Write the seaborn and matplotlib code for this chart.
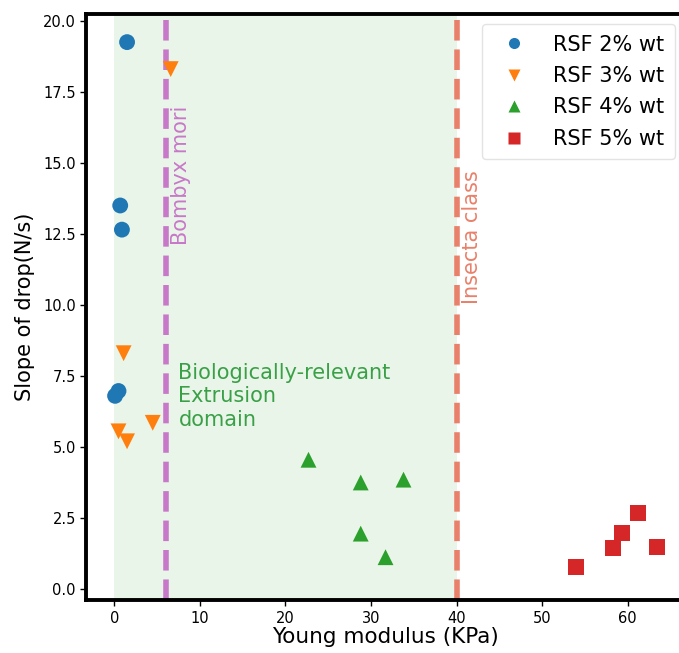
import matplotlib
matplotlib.use("Agg")
import matplotlib.pyplot as plt
import pandas as pd
import seaborn as sns

# values
groups = ["RSF 2% wt", "RSF 3% wt", "RSF 4% wt", "RSF 5% wt"]
young_2 = [1.5, 0.7, 0.9, 0.5, 0.1]
slope_2 = [19.25, 13.5, 12.65, 6.97, 6.8]
young_3 = [6.6, 1.1, 0.5, 1.5, 4.5]
slope_3 = [18.3, 8.3, 5.55, 5.2, 5.85]
young_4 = [22.7, 28.8, 33.8, 28.8, 31.7]
slope_4 = [4.55, 3.75, 3.85, 1.95, 1.12]
young_5 = [54.0, 58.3, 59.3, 61.2, 63.4]
slope_5 = [0.77, 1.43, 1.96, 2.67, 1.48]

bombyx_x = 6
insecta_x = 40

data = pd.concat([
    pd.DataFrame({"Young": young_2, "Slope": slope_2, "Sample": groups[0]}),
    pd.DataFrame({"Young": young_3, "Slope": slope_3, "Sample": groups[1]}),
    pd.DataFrame({"Young": young_4, "Slope": slope_4, "Sample": groups[2]}),
    pd.DataFrame({"Young": young_5, "Slope": slope_5, "Sample": groups[3]}),
], ignore_index=True)

fig = plt.figure(figsize=(6.79, 6.53), dpi=100)
# axes run a little past the right edge, as in the cropped reference
ax = fig.add_axes([0.127, 0.081, 0.882, 0.898])

ax.axvspan(0, insecta_x, color="#2ca02c", alpha=0.1, lw=0, zorder=0)
ax.axvline(bombyx_x, color="#c878c8", ls="--", lw=4, zorder=1)
ax.axvline(insecta_x, color="#e9806a", ls="--", lw=4, zorder=1)

sns.scatterplot(data=data, x="Young", y="Slope", hue="Sample", style="Sample",
                markers={"RSF 2% wt": "o", "RSF 3% wt": "v", "RSF 4% wt": "^", "RSF 5% wt": "s"},
                palette=["#1f77b4", "#ff7f0e", "#2ca02c", "#d62728"],
                s=130, edgecolor="none", ax=ax, zorder=3)

ax.text(bombyx_x + 0.6, 17.0, "Bombyx mori", rotation=90, color="#c878c8",
        fontsize=15, va="top", ha="left")
ax.text(insecta_x + 0.6, 14.75, "Insecta class", rotation=90, color="#e9806a",
        fontsize=15, va="top", ha="left")
ax.text(7.5, 7.95, "Biologically-relevant\nExtrusion\ndomain", color="#3aa047",
        fontsize=15, va="top", ha="left", linespacing=1.2)

ax.set_xlim(-3.27, 66.7)
ax.set_ylim(-0.39, 20.25)
ax.set_xticks([0, 10, 20, 30, 40, 50, 60])
ax.set_yticks([0, 2.5, 5, 7.5, 10, 12.5, 15, 17.5, 20])
ax.set_yticklabels(["0.0", "2.5", "5.0", "7.5", "10.0", "12.5", "15.0", "17.5", "20.0"])
ax.tick_params(labelsize=10.5, length=4, width=1)
ax.set_xlabel("Young modulus (KPa)", fontsize=15.5, labelpad=1)
ax.set_ylabel("Slope of drop(N/s)", fontsize=15, labelpad=6)
for sp in ax.spines.values():
    sp.set_linewidth(2.8)
    sp.set_color("black")

leg = ax.legend(loc="upper right", fontsize=15, markerscale=0.7, borderpad=0.5,
                labelspacing=0.55, handletextpad=0.9, handlelength=2.0)
leg.get_frame().set_edgecolor("#dddddd")

fig.savefig("out.png", dpi=100)
